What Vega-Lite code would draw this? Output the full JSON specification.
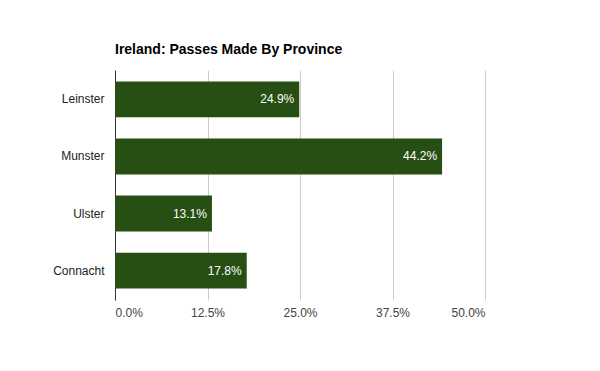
{
  "$schema": "https://vega.github.io/schema/vega-lite/v6.json",
  "width": 370,
  "height": 230,
  "autosize": {"type": "none"},
  "padding": {"left": 115, "top": 70, "right": 115, "bottom": 71},
  "background": "white",
  "title": {"text": "Ireland: Passes Made By Province", "anchor": "start", "frame": "group", "font": "Liberation Sans", "fontSize": 14, "fontWeight": "bold", "color": "#000000", "offset": 13},
  "config": {"view": {"stroke": null}, "font": "Liberation Sans"},
  "data": {"values": [
    {"province": "Leinster", "share": 0.249},
    {"province": "Munster", "share": 0.442},
    {"province": "Ulster", "share": 0.131},
    {"province": "Connacht", "share": 0.178}
  ]},
  "encoding": {
    "y": {"field": "province", "type": "nominal", "sort": null, "title": null,
      "scale": {"paddingInner": 0.37, "paddingOuter": 0.2},
      "axis": {"domain": true, "domainColor": "#333333", "ticks": false, "labelPadding": 11, "labelFont": "Liberation Sans", "labelFontSize": 12, "labelColor": "#222222", "grid": false}},
    "x": {"field": "share", "type": "quantitative", "title": null,
      "scale": {"domain": [0, 0.5], "nice": false},
      "axis": {"values": [0, 0.125, 0.25, 0.375, 0.5], "format": ".1%", "domain": false, "ticks": false, "grid": true, "gridColor": "#cccccc", "labelPadding": 7, "labelFont": "Liberation Sans", "labelFontSize": 12, "labelColor": "#444444"}}
  },
  "layer": [
    {"mark": {"type": "bar", "color": "#274e13"}},
    {"mark": {"type": "text", "align": "right", "dx": -5, "color": "white", "font": "Liberation Sans", "fontSize": 12},
     "encoding": {"text": {"field": "share", "type": "quantitative", "format": ".1%"}}},
    {"mark": {"type": "rule", "color": "#333333"}, "encoding": {"x": {"datum": 0}}, "data": {"values": [{}]}}
  ]
}
